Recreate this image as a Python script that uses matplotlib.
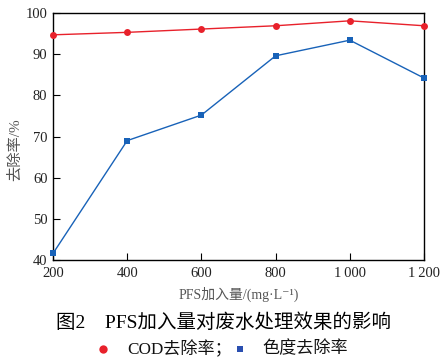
import matplotlib
matplotlib.use("Agg")
import matplotlib.pyplot as plt
from matplotlib.lines import Line2D

# data
dose = [200, 400, 600, 800, 1000, 1200]
cod_removal = [94.7, 95.3, 96.1, 96.9, 98.1, 96.9]
color_removal = [41.6, 69.0, 75.2, 89.6, 93.4, 84.2]
xtick_labels = ["200", "400", "600", "800", "1\u2009000", "1\u2009200"]
yticks = [40, 50, 60, 70, 80, 90, 100]

RED = '#e8212b'
BLUE = '#1862b8'
SERIF = ['Liberation Serif', 'DejaVu Serif']
MIX = ['Liberation Serif', 'Noto Sans CJK SC', 'DejaVu Sans']

fig = plt.figure(figsize=(4.47, 3.58), dpi=100)
ax = fig.add_axes([53/447, 1 - 260/358, (424-53)/447, (260-13)/358])

ax.plot(dose, cod_removal, '-o', color=RED, markersize=5, linewidth=1.0,
        markeredgewidth=0, clip_on=False, zorder=3)
ax.plot(dose, color_removal, '-s', color=BLUE, markersize=5, linewidth=1.0,
        markeredgewidth=0, clip_on=False, zorder=3)

ax.set_xlim(200, 1200)
ax.set_ylim(40, 100)
ax.set_xticks(dose)
ax.set_xticklabels(xtick_labels, family=SERIF, fontsize=10.5, color='#222222')
ax.set_yticks(yticks)
ax.set_yticklabels([str(v) for v in yticks], family=SERIF, fontsize=10.5, color='#222222')
ax.tick_params(direction='in', length=5, width=0.8)
ax.tick_params(axis='x', pad=5)
ax.tick_params(axis='y', pad=4)
for s in ax.spines.values():
    s.set_linewidth(1.0)

ax.set_ylabel("去除率/%", family=MIX, fontsize=11, color='#555555')
ax.yaxis.set_label_coords(-0.084, 0.445)
ax.set_xlabel("PFS加入量/(mg\u00b7L\u207b\u00b9)", family=MIX, fontsize=10,
              color='#555555', labelpad=5)

fig.text(0.5, 1 - 323/358, "图2\u2003PFS加入量对废水处理效果的影响", family=MIX,
         fontsize=14, ha='center', va='center', color='#000000')

# legend row below the title
fig.add_artist(Line2D([103/447], [1 - 349/358], marker='o', color=RED,
                      markersize=6, markeredgewidth=0, linestyle='none',
                      transform=fig.transFigure))
fig.text(127/447, 1 - 349/358, "COD去除率；", family=MIX, fontsize=12.3,
         ha='left', va='center', color='#111111')
fig.add_artist(Line2D([240/447], [1 - 349/358], marker='s', color='#2a4fb0',
                      markersize=5, markeredgewidth=0, linestyle='none',
                      transform=fig.transFigure))
fig.text(262/447, 1 - 349/358, "色度去除率", family=MIX, fontsize=12.3,
         ha='left', va='center', color='#111111')

fig.savefig("out.png", dpi=100)
